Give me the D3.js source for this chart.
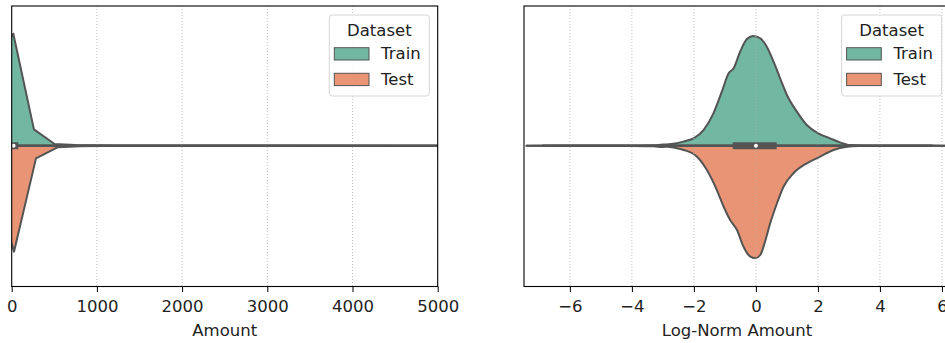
<!DOCTYPE html>
<html lang="en">
<head>
<meta charset="UTF-8">
<title>Amount violins</title>
<style>
  body { margin: 0; background: #fff; }
  svg { display: block; font-family: "DejaVu Sans", sans-serif; }
</style>
</head>
<body>
<div id="chart"></div>
<script src="https://d3js.org/d3.v7.min.js"></script>
<script>
// data
const datasets = ["Train", "Test"];
const amountTicks = [0, 1000, 2000, 3000, 4000, 5000];
const logTicks = [-6, -4, -2, 0, 2, 4, 6];

// kde curves [value, relative density]
const amountTrain = [[-223, 0.71], [19, 1.0], [261, 0.146], [503, 0.015], [745, 0.006], [987, 0.003],
  [1229, 0.002], [2000, 0.001], [5000, 0.0005], [12000, 0.0003], [25900, 0]];
const amountTest = [[-231, 0.27], [27, 0.946], [285, 0.113], [543, 0.013], [801, 0.005], [1059, 0.003],
  [2000, 0.0015], [5000, 0.0005], [12000, 0.0003], [20000, 0]];

const logTrain = [[-7.4, 0], [-6.5, 0.001], [-5, 0.001], [-4, 0.002], [-3.3, 0.004], [-3.0, 0.01],
  [-2.8, 0.012], [-2.55, 0.021], [-2.3, 0.04], [-2.01, 0.066], [-1.69, 0.14], [-1.37, 0.289],
  [-1.1, 0.482], [-0.88, 0.646], [-0.72, 0.691], [-0.51, 0.839], [-0.29, 0.953], [-0.08, 0.98],
  [0.14, 0.959], [0.35, 0.884], [0.57, 0.75], [0.78, 0.602], [1.0, 0.453], [1.32, 0.304],
  [1.64, 0.185], [2.01, 0.111], [2.39, 0.066], [2.71, 0.03], [3.04, 0.006], [3.5, 0.002],
  [4.5, 0.001], [5.6, 0.001], [6.2, 0]];
const logTest = [[-7.4, 0], [-6.5, 0.001], [-5, 0.001], [-4, 0.002], [-3.3, 0.005], [-3.0, 0.012],
  [-2.87, 0.009], [-2.6, 0.02], [-2.33, 0.038], [-1.9, 0.098], [-1.58, 0.217], [-1.26, 0.396],
  [-1.04, 0.545], [-0.83, 0.663], [-0.61, 0.753], [-0.4, 0.902], [-0.18, 0.991], [-0.02, 1.005],
  [0.14, 0.976], [0.31, 0.842], [0.46, 0.693], [0.68, 0.514], [0.89, 0.366], [1.21, 0.246],
  [1.64, 0.157], [2.07, 0.098], [2.5, 0.038], [2.94, 0.009], [3.3, 0.003], [4.5, 0.001],
  [5.6, 0.001], [6.2, 0]];

// min, q1, median, q3, max
const amountBox = [0, 5.6, 22, 77, 25691];
const logBox = [-6.87, -0.75, 0, 0.67, 5.68];

const colors = ["#71b7a1", "#e99575"];
const edge = "#545454";

const W = 945, H = 343;
const svg = d3.select("#chart").append("svg").attr("width", W).attr("height", H);

const plotTop = 6, plotBottom = 286.5;
const cy = 145.7;
const fontSize = "16.5px";
const wScale = d3.scaleLinear().domain([0, 1]).range([0, 112]);

function panel(id, x0, x1, domain, ticks, label, train, test, box, curve) {
  const x = d3.scaleLinear().domain(domain).range([x0, x1]);
  const g = svg.append("g");

  g.append("clipPath").attr("id", id)
    .append("rect").attr("x", x0).attr("y", plotTop).attr("width", x1 - x0).attr("height", plotBottom - plotTop);
  const plot = g.append("g").attr("clip-path", "url(#" + id + ")");

  // the two halves of the split violin
  const up = d3.area().curve(curve).x(d => x(d[0])).y0(cy).y1(d => cy - wScale(d[1]));
  const down = d3.area().curve(curve).x(d => x(d[0])).y0(cy).y1(d => cy + wScale(d[1]));
  [[train, up], [test, down]].forEach(([data, gen], i) => {
    plot.append("path").attr("d", gen(data))
      .attr("fill", colors[i]).attr("stroke", edge).attr("stroke-width", 2)
      .attr("stroke-linejoin", "round");
  });

  // grid lines
  plot.selectAll(".grid").data(ticks).join("line")
    .attr("x1", d => x(d)).attr("x2", d => x(d)).attr("y1", plotTop).attr("y2", plotBottom)
    .attr("stroke", "#b0b0b0").attr("stroke-width", 0.8).attr("stroke-dasharray", "1,2");

  // inner box
  plot.append("line").attr("x1", x(box[0])).attr("x2", x(box[4])).attr("y1", cy).attr("y2", cy)
    .attr("stroke", edge).attr("stroke-width", 2.5).attr("stroke-linecap", "round");
  plot.append("line").attr("x1", x(box[1])).attr("x2", x(box[3])).attr("y1", cy).attr("y2", cy)
    .attr("stroke", edge).attr("stroke-width", 7);
  plot.append("circle").attr("cx", x(box[2])).attr("cy", cy).attr("r", 2)
    .attr("fill", "#fff");

  // frame
  g.append("rect").attr("x", x0).attr("y", plotTop).attr("width", x1 - x0).attr("height", plotBottom - plotTop)
    .attr("fill", "none").attr("stroke", "#000").attr("stroke-width", 1.1);

  // x axis
  const axis = d3.axisBottom(x).tickValues(ticks).tickSize(5.5).tickPadding(8.3)
    .tickFormat(d3.format("d"));
  const ax = g.append("g").attr("transform", "translate(0," + plotBottom + ")").call(axis);
  ax.select(".domain").remove();
  ax.selectAll(".tick line").attr("stroke", "#000").attr("stroke-width", 1);
  ax.selectAll(".tick text").attr("fill", "#222").style("font-size", fontSize)
    .style("font-family", "'DejaVu Sans', sans-serif");
  g.append("text").attr("x", (x0 + x1) / 2).attr("y", 335.5).attr("text-anchor", "middle")
    .attr("fill", "#222").style("font-size", fontSize).text(label);

  // legend
  const lx = x1 - 108.4, ly = 15;
  const lg = g.append("g").attr("transform", "translate(" + lx + "," + ly + ")");
  lg.append("rect").attr("width", 100).attr("height", 81).attr("rx", 3)
    .attr("fill", "#fff").attr("fill-opacity", 0.8).attr("stroke", "#d6d6d6").attr("stroke-width", 1);
  lg.append("text").attr("x", 50).attr("y", 20.5).attr("text-anchor", "middle")
    .attr("fill", "#222").style("font-size", fontSize).text("Dataset");
  datasets.forEach((name, i) => {
    lg.append("rect").attr("x", 5).attr("y", 32.7 + i * 25.6).attr("width", 34.7).attr("height", 12.3)
      .attr("fill", colors[i]).attr("stroke", edge).attr("stroke-width", 1);
    lg.append("text").attr("x", 51.8).attr("y", 44.3 + i * 25.8)
      .attr("fill", "#222").style("font-size", fontSize).text(name);
  });
}

panel("clipA", 11.7, 437.7, [0, 5000], amountTicks, "Amount",
  amountTrain, amountTest, amountBox, d3.curveLinear);
panel("clipB", 524, 950, [-7.48, 6.26], logTicks, "Log-Norm Amount",
  logTrain, logTest, logBox, d3.curveMonotoneX);
</script>
</body>
</html>
